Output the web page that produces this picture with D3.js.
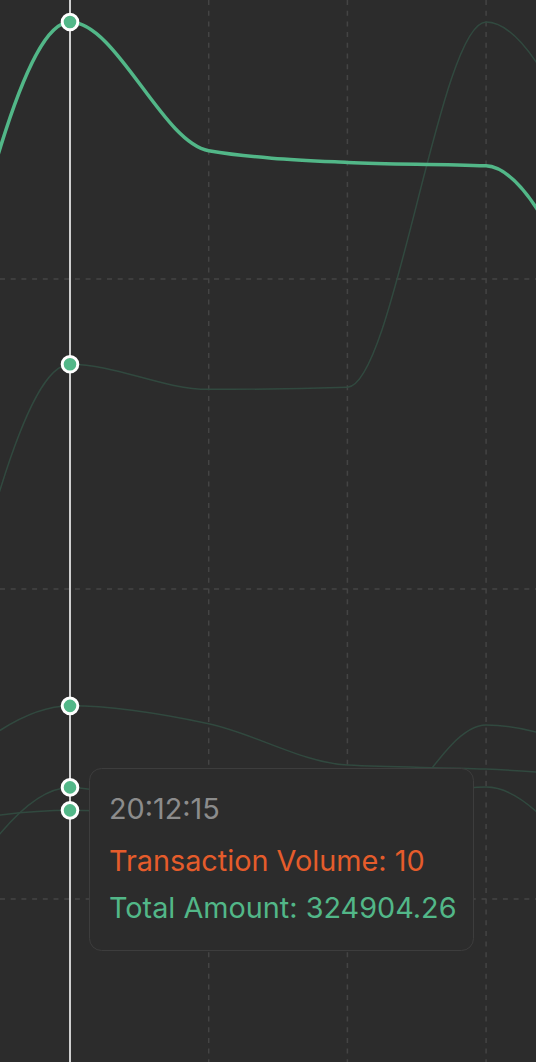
<!DOCTYPE html>
<html>
<head>
<meta charset="utf-8">
<script src="https://cdn.jsdelivr.net/npm/d3@7"></script>
<style>
  html, body { margin: 0; padding: 0; background: #2c2c2c; }
  svg { display: block; }
</style>
</head>
<body>
<svg id="chart"></svg>
<script>
// time slots (first and last sit just outside the visible crop)
const times = ['20:12:10', '20:12:15', '20:12:20', '20:12:25', '20:12:30', '20:12:35']

// highlighted series (Total Amount, scaled units)
const totalAmount = [254.5, 382.9, 341.4, 337.6, 336.5, 261.0]

// faint background series
const seriesA = [144.8, 272.5, 264.4, 265.1, 382.9, 308.1]
const seriesB = [137.4, 162.3, 156.5, 143.2, 141.9, 139.0]
const seriesC = [89.0, 136.0, 122.3, 115.2, 156.1, 143.2]
const seriesD = [123.9, 128.6, 127.1, 128.7, 136.1, 90.6]

const gridTicks = [100, 200, 300]
const hoverTime = '20:12:15'
const tooltipLines = [
    { text: '20:12:15', color: '#8c8c8c' },
    { text: 'Transaction Volume: 10', color: '#e55c2b' },
    { text: 'Total Amount: 324904.26', color: '#52b788' }
]

const width = 536
const height = 1062
const green = '#52b788'

const svg = d3.select('#chart')
    .attr('width', width)
    .attr('height', height)

svg.append('rect')
    .attr('width', width)
    .attr('height', height)
    .attr('fill', '#2c2c2c')

const x = d3.scalePoint()
    .domain(times)
    .range([-68.7, 624.8])

const y = d3.scaleLinear()
    .domain([0, 400])
    .range([1209, -31])

// grid
const grid = svg.append('g')
    .attr('stroke', '#444444')
    .attr('stroke-width', 1.5)
    .attr('stroke-dasharray', '5,5.7')

grid.selectAll('line.h')
    .data(gridTicks)
    .join('line')
    .attr('class', 'h')
    .attr('x1', 0)
    .attr('x2', width)
    .attr('y1', d => y(d))
    .attr('y2', d => y(d))

grid.selectAll('line.v')
    .data(times)
    .join('line')
    .attr('class', 'v')
    .attr('x1', d => x(d))
    .attr('x2', d => x(d))
    .attr('y1', 0)
    .attr('y2', height)

const line = d3.line()
    .x((d, i) => x(times[i]))
    .y(d => y(d))
    .curve(d3.curveMonotoneX)

// faint lines
svg.append('g')
    .selectAll('path')
    .data([seriesA, seriesB, seriesC, seriesD])
    .join('path')
    .attr('d', d => line(d))
    .attr('fill', 'none')
    .attr('stroke', '#31493f')
    .attr('stroke-width', 1.5)

// main line
svg.append('path')
    .attr('d', line(totalAmount))
    .attr('fill', 'none')
    .attr('stroke', green)
    .attr('stroke-width', 3.5)

// hover line
const hx = x(hoverTime)
const hi = times.indexOf(hoverTime)

svg.append('line')
    .attr('x1', hx)
    .attr('x2', hx)
    .attr('y1', 0)
    .attr('y2', height)
    .attr('stroke', '#cfcfcf')
    .attr('stroke-width', 2)

svg.append('g')
    .selectAll('circle')
    .data([totalAmount, seriesA, seriesB, seriesC, seriesD])
    .join('circle')
    .attr('cx', hx)
    .attr('cy', d => y(d[hi]))
    .attr('r', 7.8)
    .attr('fill', green)
    .attr('stroke', '#ffffff')
    .attr('stroke-width', 3)

// tooltip
const tip = svg.append('g')
    .attr('transform', 'translate(89.5,768.5)')

tip.append('rect')
    .attr('width', 384)
    .attr('height', 182)
    .attr('rx', 12)
    .attr('fill', '#2c2c2c')
    .attr('stroke', '#3d3d3d')
    .attr('stroke-width', 1)

const baselines = [50.5, 102.5, 149]

tip.selectAll('text')
    .data(tooltipLines)
    .join('text')
    .attr('x', 19.5)
    .attr('y', (d, i) => baselines[i])
    .attr('fill', d => d.color)
    .style('font-family', 'Inter, "Noto Sans", sans-serif')
    .style('font-size', '28.8px')
    .text(d => d.text)
</script>
</body>
</html>
